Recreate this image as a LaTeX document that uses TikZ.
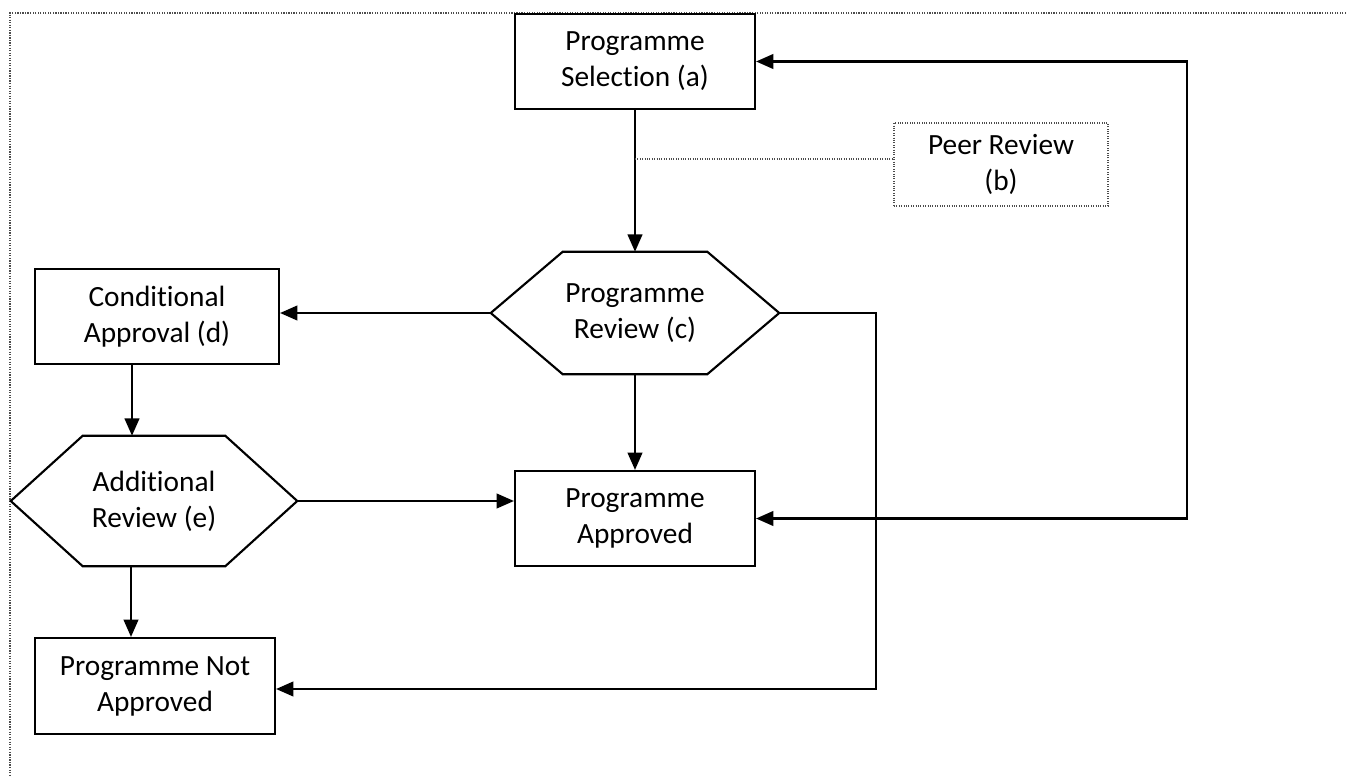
\documentclass[tikz,border=0pt]{standalone}
\usepackage{fontspec}
\setmainfont[Ligatures=NoCommon]{Carlito}
\usetikzlibrary{arrows.meta,calc}
\tikzset{
  txt/.style={font=\fontsize{22}{27}\selectfont},
  box/.style={draw,line width=1.6pt,align=center,inner sep=0pt,txt},
  hexlabel/.style={align=center,inner sep=0pt,txt},
  hexline/.style={line width=1.6pt,line join=miter},
  arr/.style={line width=1.6pt,-{Triangle[length=13pt,width=11pt]}},
  darr/.style={line width=1.6pt,{Triangle[length=13pt,width=11pt]}-{Triangle[length=13pt,width=11pt]}},
  thinbox/.style={draw=black!70,densely dotted,line width=0.8pt,align=center,inner sep=0pt,txt},
  thinline/.style={draw=black!70,densely dotted,line width=0.8pt},
  frame/.style={draw=black!70,densely dotted,line width=0.9pt}
}
\begin{document}
\begin{tikzpicture}[x=0.75pt,y=-0.75pt]
\useasboundingbox (0,0) rectangle (1346,777);
\draw[frame] (1346,13) -- (10,13) -- (10,777);

\node[box,minimum width=180pt,minimum height=71.25pt] (sel) at (635,61.5) {Programme\\Selection (a)};
\node[thinbox,minimum width=160.5pt,minimum height=62.25pt] (peer) at (1001,164.5) {Peer Review\\(b)};
\node[hexlabel,minimum width=216pt,minimum height=91.5pt] (rev) at (635,313) {Programme\\Review (c)};
\node[box,minimum width=183pt,minimum height=71.25pt] (cond) at (157,316.5) {Conditional\\Approval (d)};
\node[hexlabel,minimum width=214.5pt,minimum height=97.5pt] (add) at (154,501) {Additional\\Review (e)};
\node[box,minimum width=180pt,minimum height=71.25pt] (appr) at (635,518.5) {Programme\\Approved};
\node[box,minimum width=180pt,minimum height=72pt] (notap) at (155,686) {Programme Not\\Approved};

% hexagons
\draw[hexline] (rev.west) -- ($(rev.north west)+(72,0)$) -- ($(rev.north east)+(-72,0)$) -- (rev.east)
  -- ($(rev.south east)+(-72,0)$) -- ($(rev.south west)+(72,0)$) -- cycle;
\draw[hexline] (add.west) -- ($(add.north west)+(72,0)$) -- ($(add.north east)+(-72,0)$) -- (add.east)
  -- ($(add.south east)+(-72,0)$) -- ($(add.south west)+(72,0)$) -- cycle;

% connectors
\coordinate (pj) at (635,159);
\coordinate (loopR) at (1187,300);
\coordinate (loopN) at (876,500);
\coordinate (c1) at ($(cond.south)+(-25,0)$);
\coordinate (c2) at ($(add.south)+(-23,0)$);
\coordinate (c3) at ($(notap.east)+(0,3)$);
\draw[arr] (sel.south) -- (rev.north);
\draw[thinline] (pj) -- (pj -| peer.west);
\draw[arr] (rev.west) -- (rev.west -| cond.east);
\draw[arr] (rev.south) -- (appr.north);
\draw[arr] (c1) -- (c1 |- add.north);
\draw[arr] (add.east) -- (add.east -| appr.west);
\draw[arr] (c2) -- (c2 |- notap.north);
\draw[darr] (appr.east) -| (loopR) |- (sel.east);
\draw[arr] (rev.east) -| (loopN) |- (c3);
\end{tikzpicture}
\end{document}
